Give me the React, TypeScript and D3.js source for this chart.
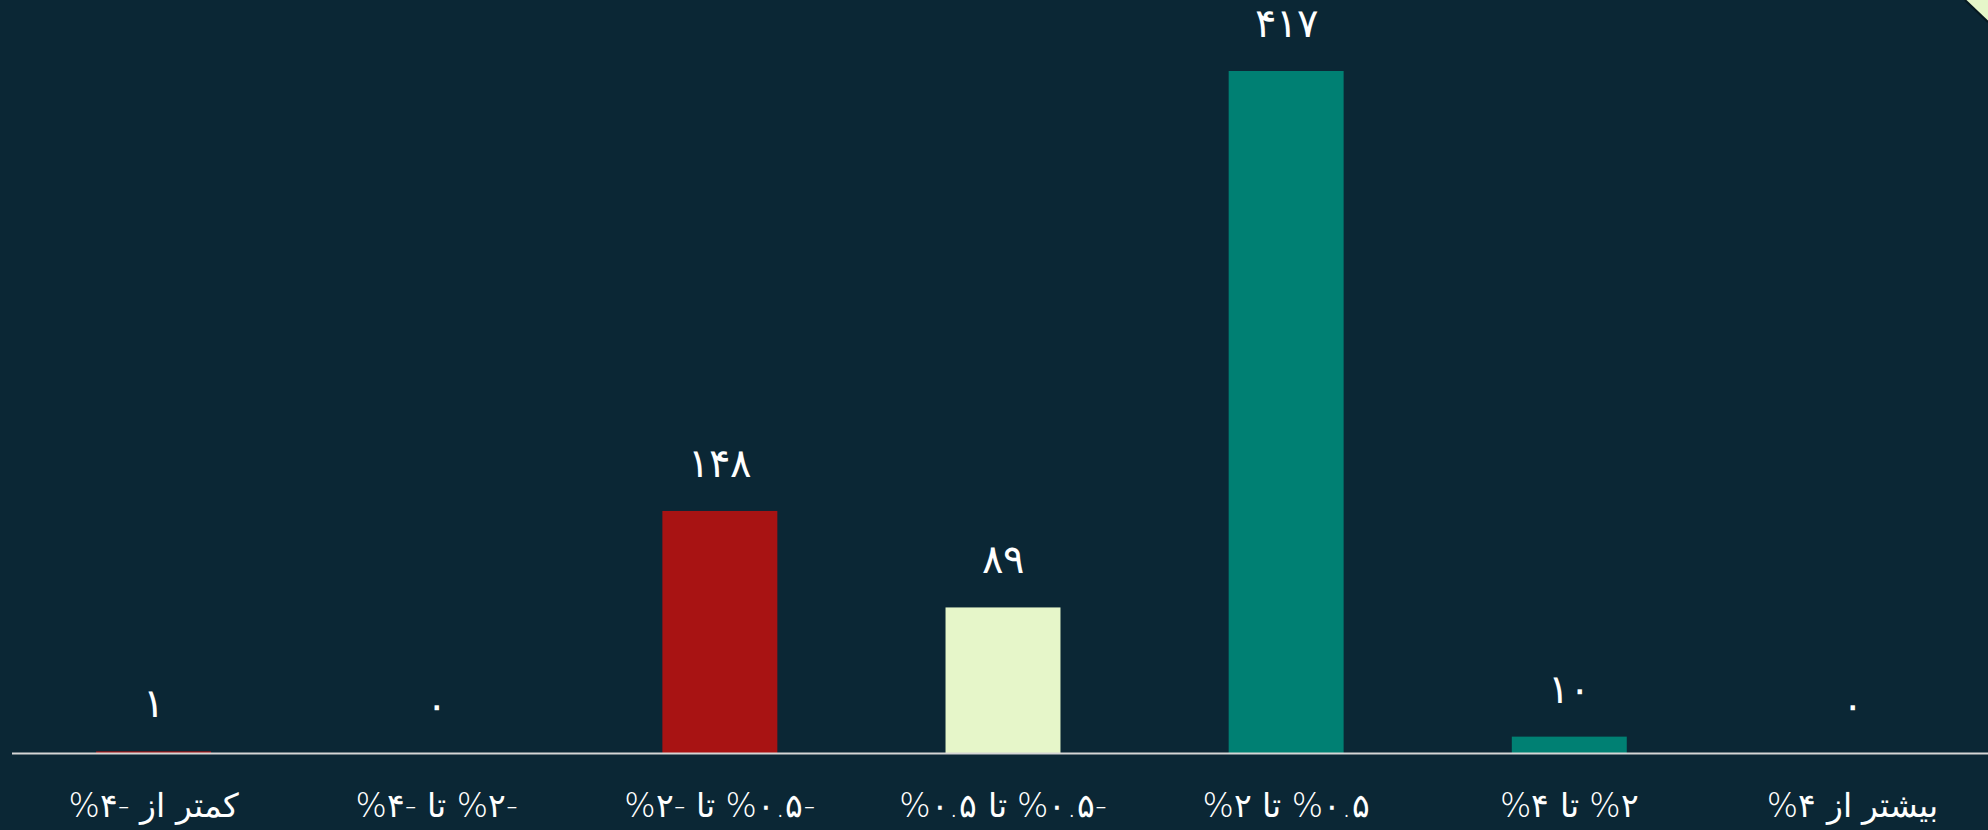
import React from 'react';
import * as d3 from 'd3';

const categories = [
  'کمتر از -۴%',
  '-۲% تا -۴%',
  '-۰.۵% تا -۲%',
  '-۰.۵% تا ۰.۵%',
  '۰.۵% تا ۲%',
  '۲% تا ۴%',
  'بیشتر از ۴%',
];
const counts = [1, 0, 148, 89, 417, 10, 0];
const valueLabels = ['۱', '۰', '۱۴۸', '۸۹', '۴۱۷', '۱۰', '۰'];
const barColors = ['#a81313', '#a81313', '#a81313', '#e6f6c9', '#008073', '#008073', '#008073'];

const width = 1988;
const height = 830;
const baseY = 753;
const topY = 71;
const ALM = '\u061C';

const App = () => {
  const x = d3.scaleBand<string>()
    .domain(categories)
    .range([12, 1994])
    .paddingInner(0.594)
    .paddingOuter(0.297);
  const y = d3.scaleLinear().domain([0, 417]).range([baseY, topY]);

  return (
    <div style={{ position: 'absolute', left: 0, top: 0, width, height, background: '#0b2735' }}>
      <svg width={width} height={height} style={{ display: 'block' }}
        fontFamily="'DejaVu Sans', sans-serif">
        <rect width={width} height={height} fill="#0b2735" />
        {categories.map((c, i) => (
          <rect key={c} x={x(c)} y={y(counts[i])} width={x.bandwidth()}
            height={baseY - y(counts[i])} fill={barColors[i]} />
        ))}
        <line x1={12} x2={width} y1={baseY + 0.5} y2={baseY + 0.5} stroke="#d6d6d6" strokeWidth={2} />
        {categories.map((c, i) => (
          <text key={'v' + c} x={(x(c) as number) + x.bandwidth() / 2} y={y(counts[i]) - 34}
            textAnchor="middle" fill="#ffffff" fontSize={40} fontWeight={300}>
            {valueLabels[i]}
          </text>
        ))}
        {categories.map((c) => (
          <text key={'l' + c} x={(x(c) as number) + x.bandwidth() / 2} y={817}
            textAnchor="middle" direction="rtl" fill="#ffffff" fontSize={33} fontWeight={300}>
            {ALM + c}
          </text>
        ))}
        <polygon points="1965,0 1988,0 1988,22" fill="#e6f6c9" />
        <line x1={1965} y1={0} x2={1988} y2={22} stroke="#061820" strokeWidth={2} />
      </svg>
    </div>
  );
};

export default App;
